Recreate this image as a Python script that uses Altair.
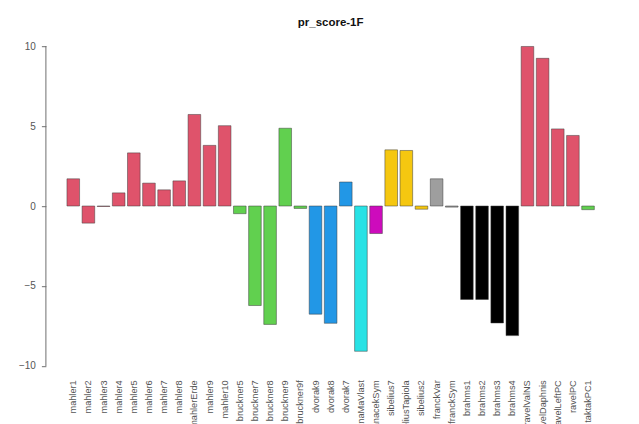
import altair as alt
import pandas as pd

names = ["mahler1", "mahler2", "mahler3", "mahler4", "mahler5", "mahler6", "mahler7",
         "mahler8", "mahlerErde", "mahler9", "mahler10",
         "bruckner5", "bruckner7", "bruckner8", "bruckner9", "bruckner9f",
         "dvorak9", "dvorak8", "dvorak7",
         "smetanaMaVlast", "janacekSym",
         "sibelius7", "sibeliusTapiola", "sibelius2",
         "franckVar", "franckSym",
         "brahms1", "brahms2", "brahms3", "brahms4",
         "ravelValNS", "ravelDaphnis", "ravelLeftPC", "ravelPC",
         "taktakPC1"]
values = [1.7, -1.07, -0.03, 0.82, 3.32, 1.43, 1.01, 1.57, 5.72, 3.79, 5.02,
          -0.48, -6.22, -7.4, 4.86, -0.15,
          -6.76, -7.33, 1.5,
          -9.08, -1.72,
          3.51, 3.47, -0.2,
          1.7, -0.07,
          -5.84, -5.84, -7.31, -8.1,
          9.97, 9.23, 4.82, 4.41,
          -0.23]
groups = (["mahler"] * 11 + ["bruckner"] * 5 + ["dvorak"] * 3 + ["smetana", "janacek"]
          + ["sibelius"] * 3 + ["franck"] * 2 + ["brahms"] * 4 + ["ravel"] * 4 + ["taktak"])
group_order = ["mahler", "bruckner", "dvorak", "smetana", "janacek", "sibelius",
               "franck", "brahms", "ravel", "taktak"]
group_colors = ["#DF536B", "#61D04F", "#2297E6", "#28E2E5", "#CD0BBC", "#F5C710",
                "#9E9E9E", "#000000", "#DF536B", "#61D04F"]
y_ticks = [-10, -5, 0, 5, 10]

df = pd.DataFrame({"name": names, "value": values, "group": groups})

FONT = "Liberation Sans"
AXIS_GRAY = "#6e6e6e"

bars = alt.Chart(df).mark_bar(stroke="#3a3a3a", strokeWidth=0.5).encode(
    x=alt.X("name:N", sort=names,
            scale=alt.Scale(paddingInner=0.1667, paddingOuter=0, range=[21.05, 548.45]),
            axis=alt.Axis(title=None, labelAngle=-90, ticks=False, tickSize=0,
                          domain=False, labelPadding=1, labelOverlap=False,
                          labelLimit=300, labelFont=FONT, labelFontSize=9.2,
                          labelColor="#555555")),
    y=alt.Y("value:Q",
            scale=alt.Scale(domain=[-10.8, 10.8], nice=False, zero=False),
            axis=alt.Axis(title=None, values=y_ticks, domain=False, grid=False,
                          tickSize=4.5, tickColor=AXIS_GRAY, labelPadding=6,
                          labelFont=FONT, labelFontSize=10, labelColor="#555555")),
    color=alt.Color("group:N", scale=alt.Scale(domain=group_order, range=group_colors),
                    legend=None),
)

axis_line = alt.Chart(pd.DataFrame({"lo": [y_ticks[0]], "hi": [y_ticks[-1]]})).mark_rule(
    color=AXIS_GRAY, strokeWidth=1
).encode(
    x=alt.value(0),
    y=alt.Y("lo:Q"),
    y2=alt.Y2("hi:Q"),
)

chart = alt.layer(bars, axis_line).properties(
    width=569.5,
    height=345.6,
    title=alt.TitleParams("pr_score-1F", font=FONT, fontSize=11.5, fontWeight="bold",
                          anchor="middle", offset=5, color="#111111"),
    autosize=alt.AutoSizeParams(type="none"),
    padding={"left": 37.9, "top": 25.2, "right": 15, "bottom": 45.2},
).configure(background="white").configure_view(stroke=None)

chart.save("out.html", embed_options={"renderer": "svg", "actions": False})
